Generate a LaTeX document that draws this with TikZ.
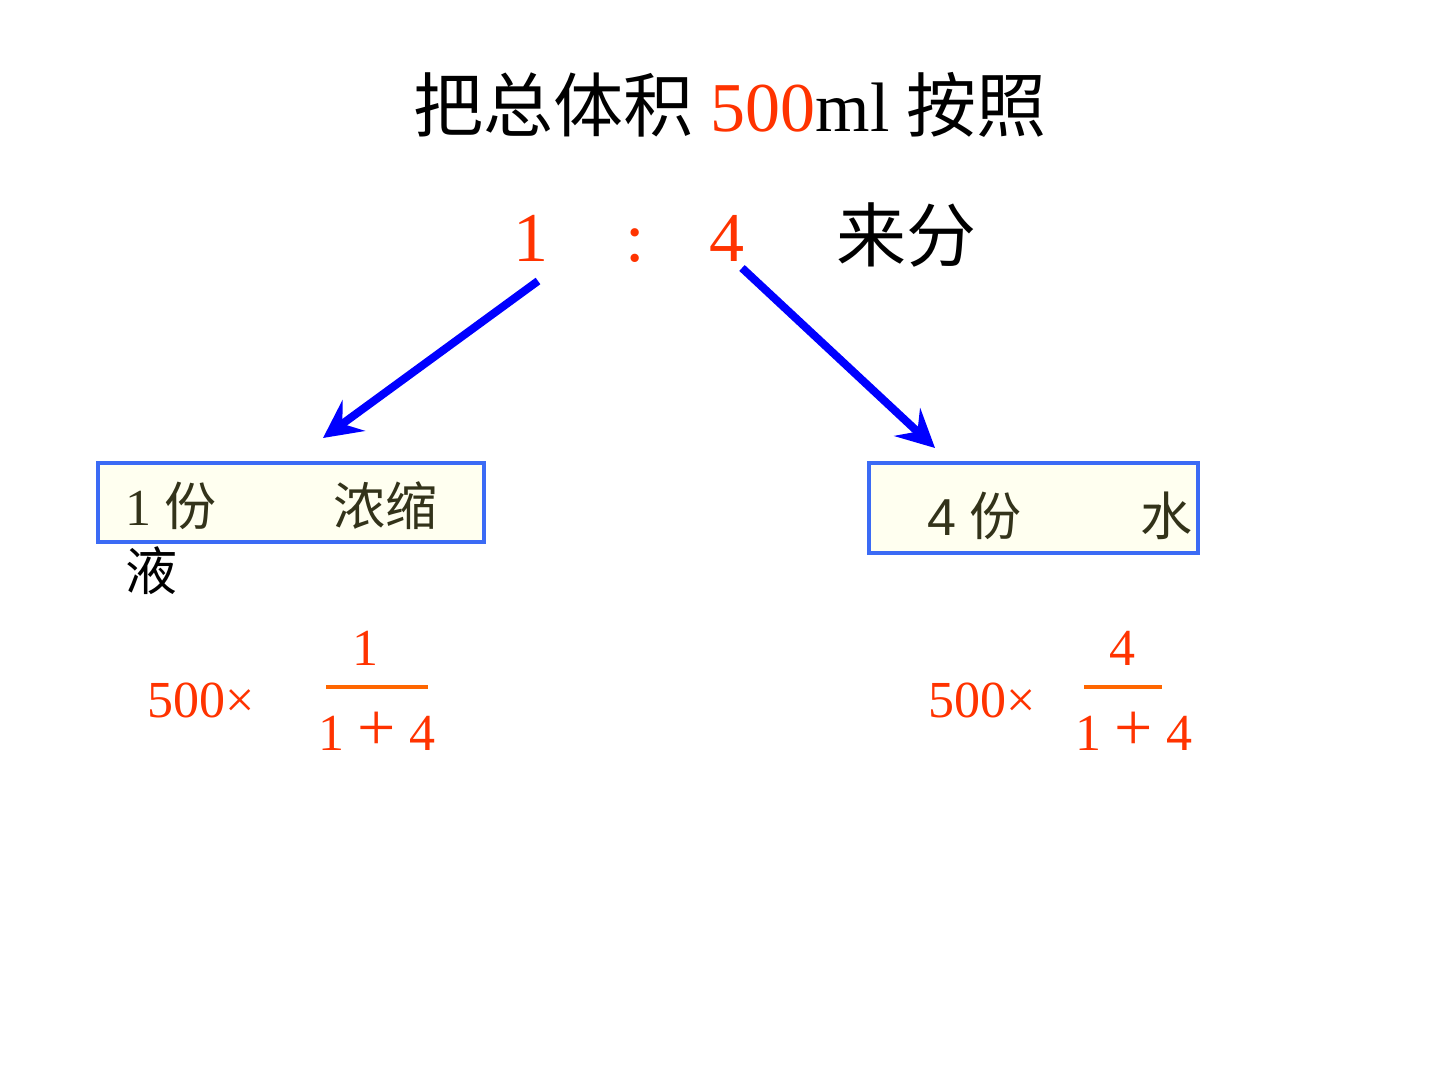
\documentclass[tikz,border=0pt]{standalone}
\usepackage{fontspec}
\setmainfont{Liberation Serif}
\newfontfamily\cjk{Noto Sans CJK SC}
\newfontfamily\arialf{Liberation Sans}
\usetikzlibrary{arrows.meta}
\definecolor{redo}{RGB}{255,51,0}
\definecolor{baro}{RGB}{255,102,0}
\definecolor{arrowblue}{RGB}{0,0,255}
\definecolor{boxblue}{RGB}{59,107,245}
\definecolor{boxfill}{RGB}{255,255,240}
\definecolor{olive}{RGB}{51,51,26}
\newcommand{\bigplus}{{\fontsize{34}{34}\selectfont +}}
\begin{document}
\begin{tikzpicture}[x=0.5pt,y=-0.5pt,
  big/.style={inner sep=0pt,font=\fontsize{35}{40}\selectfont},
  mid/.style={inner sep=0pt,font=\fontsize{26}{30}\selectfont},
  frm/.style={inner sep=0pt,text=redo,font=\fontsize{26}{30}\selectfont},
  boxnode/.style={draw=boxblue,line width=2pt,fill=boxfill,inner sep=0pt,anchor=north west},
  bluearrow/.style={draw=arrowblue,line width=4pt,-{Stealth[length=19pt,width=19pt,inset=7pt]}},
  fracbar/.style={draw=baro,line width=2pt}]
\useasboundingbox (0,0) rectangle (1440,1080);
% title
\node[big,anchor=base] (title) at (730,132) {{\cjk 把总体积} \textcolor{redo}{500}ml {\cjk 按照}};
% ratio
\node[big,anchor=base,text=redo] (one) at (531,262) {1};
\node[big,anchor=base,text=redo] (colon) at (635,262) {:};
\node[big,anchor=base,text=redo] (four) at (727,262) {4};
\node[big,anchor=base] (laifen) at (906,262) {\cjk 来分};
% boxes
\node[boxnode,minimum width=193pt,minimum height=39.5pt] (box1) at (96,461) {};
\node[boxnode,minimum width=164.5pt,minimum height=45pt] (box2) at (867,461) {};
% box texts
\node[mid,anchor=base west,text=olive] (b1a) at (125,525) {1 {\cjk 份}};
\node[mid,anchor=base west,text=olive] (b1b) at (333,525) {\cjk 浓缩};
\node[mid,anchor=base west] (b1c) at (125,590) {\cjk 液};
\node[mid,anchor=base west,text=olive] (b2a) at (927,535) {{\arialf 4} {\cjk 份}};
\node[mid,anchor=base west,text=olive] (b2b) at (1140,535) {\cjk 水};
% arrows
\coordinate (s1) at (538,281);
\coordinate (e1) at (323,438);
\coordinate (s2) at (742,268);
\coordinate (e2) at (935,448);
\draw[bluearrow] (s1) -- (e1);
\draw[bluearrow] (s2) -- (e2);
% formulas left
\node[frm,anchor=base west] (f1) at (147,717) {500×};
\node[frm,anchor=base] (n1) at (365,665) {1};
\coordinate (bl1) at (326,687);
\coordinate (br1) at (428,687);
\draw[fracbar] (bl1) -- (br1);
\node[frm,anchor=base] (d1) at (377,750) {1 \bigplus{} 4};
% formulas right
\node[frm,anchor=base west] (f2) at (928,717) {500×};
\node[frm,anchor=base] (n2) at (1122,665) {4};
\coordinate (bl2) at (1084,687);
\coordinate (br2) at (1162,687);
\draw[fracbar] (bl2) -- (br2);
\node[frm,anchor=base] (d2) at (1134,750) {1 \bigplus{} 4};
\end{tikzpicture}
\end{document}
